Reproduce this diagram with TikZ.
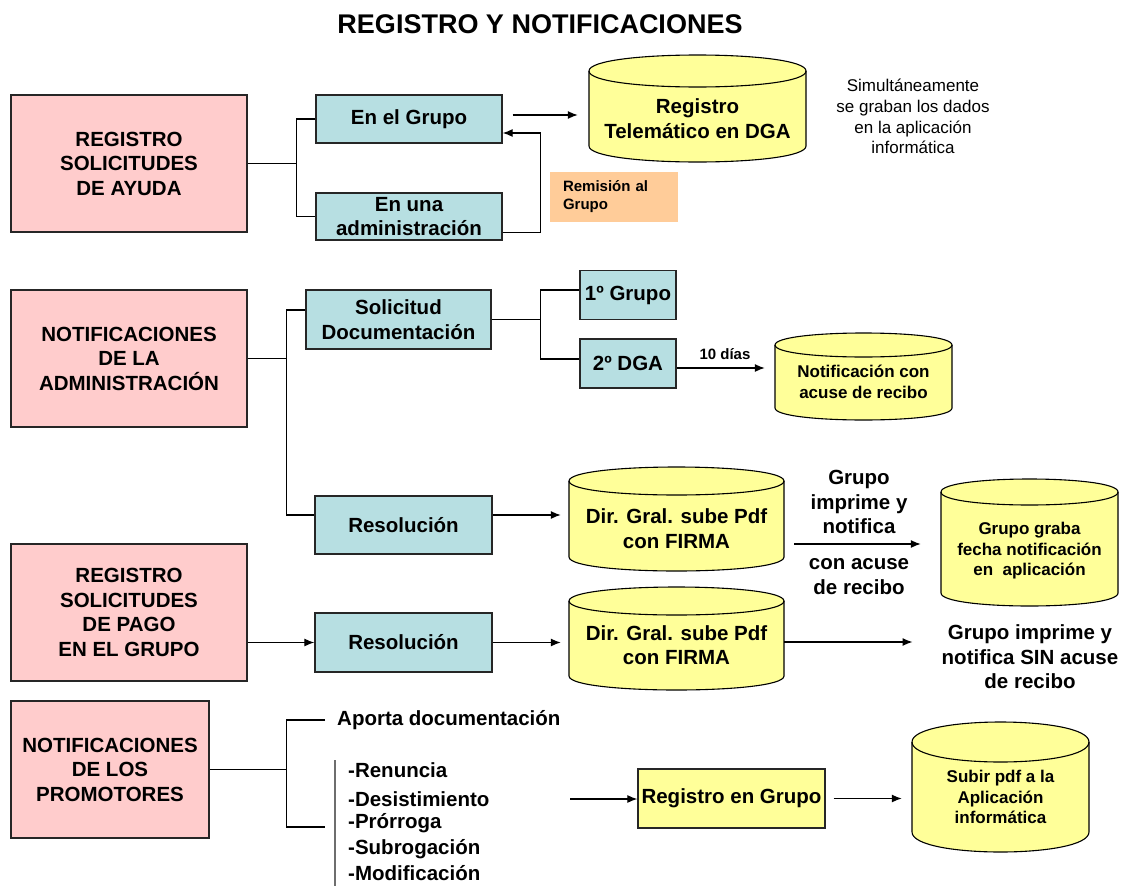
\documentclass[tikz,border=0pt]{standalone}
\usepackage{fontspec}
\setmainfont{Liberation Sans}
\usetikzlibrary{arrows.meta,calc}
\definecolor{pinkc}{RGB}{255,204,204}
\definecolor{bluec}{RGB}{183,223,226}
\definecolor{yelc}{RGB}{255,255,153}
\definecolor{orac}{RGB}{255,204,153}
\definecolor{grayl}{RGB}{110,110,110}
\newcommand\FBig{\bfseries\fontsize{20.5}{24.5}\selectfont}
\newcommand\FMid{\bfseries\fontsize{17}{20.5}\selectfont}
\newcommand\FSml{\bfseries\fontsize{15}{18}\selectfont}
\newcommand\FReg{\fontsize{17}{20.7}\selectfont}
\newcommand\FTitle{\bfseries\fontsize{27}{31}\selectfont}
% cylinder: x1, ytop, x2, ybottom, ry
\newcommand\cylshape[5]{%
  \filldraw[cylbody] (#1,{#2+#5}) -- (#1,{#4-#5})
     .. controls (#1,{#4+#5/3}) and (#3,{#4+#5/3}) .. (#3,{#4-#5})
     -- (#3,{#2+#5})
     .. controls (#3,{#2-#5/3}) and (#1,{#2-#5/3}) .. cycle;
  \draw[cylbody, fill=none] (#1,{#2+#5}) .. controls (#1,{#2+7*#5/3}) and (#3,{#2+7*#5/3}) .. (#3,{#2+#5});
}
\tikzset{
  box/.style={draw=black!85, line width=1.3pt, inner sep=0pt, align=center, font=\FBig},
  pinkbox/.style={box, fill=pinkc, minimum width=236pt, minimum height=137pt},
  bluebox/.style={box, fill=bluec},
  yelbox/.style={box, fill=yelc},
  cyltext/.style={inner sep=0pt, align=center},
  lbl/.style={inner sep=0pt, align=center, font=\FBig},
  conn/.style={line width=1.2pt, black},
  arr/.style={conn, -{Latex[length=10pt,width=8pt]}},
  cylbody/.style={fill=yelc, draw=black, line width=1.1pt},
  grayline/.style={line width=1.4pt, grayl}
}
\begin{document}
\begin{tikzpicture}[x=1pt,y=-1pt]
\useasboundingbox[fill=white] (0,0) rectangle (1121,886);

% title
\node[inner sep=0pt, font=\FTitle] (title) at (540,24) {REGISTRO Y NOTIFICACIONES};

% pink boxes
\node[pinkbox] (p1) at (129,163.5) {REGISTRO\\SOLICITUDES\\DE AYUDA};
\node[pinkbox] (p2) at (129,358.5) {NOTIFICACIONES\\DE LA\\ADMINISTRACIÓN};
\node[pinkbox] (p3) at (129,612.5) {REGISTRO\\SOLICITUDES\\DE PAGO\\EN EL GRUPO};
\node[pinkbox, minimum width=198pt] (p4) at (110,769.5) {NOTIFICACIONES\\DE LOS\\PROMOTORES};

% blue boxes
\node[bluebox, minimum width=186pt, minimum height=48pt] (b1) at (409,119) {En el Grupo};
\node[bluebox, minimum width=186pt, minimum height=47pt] (b2) at (409,216.5) {En una\\administración};
\node[bluebox, minimum width=185pt, minimum height=59pt] (sol) at (398.5,319.5) {Solicitud\\Documentación};
\node[bluebox, minimum width=96pt, minimum height=49pt] (g1) at (628,295) {1º Grupo};
\node[bluebox, minimum width=96pt, minimum height=49pt] (g2) at (628,363.5) {2º DGA};
\node[bluebox, minimum width=177pt, minimum height=58pt] (r1) at (403.5,525) {Resolución};
\node[bluebox, minimum width=177pt, minimum height=59pt] (r2) at (403.5,642.5) {Resolución};
\node[yelbox, minimum width=187pt, minimum height=59pt] (rg) at (731.5,798.5) {Registro en Grupo};

% remision
\node[fill=orac, minimum height=50pt, text width=102pt, inner xsep=13pt, inner ysep=0pt, align=left, font=\FSml] (rem) at (614,197) {Remisión al\\Grupo};

% cylinders
\cylshape{589}{55}{806}{162}{16}
\node[cyltext, font=\FBig, minimum width=217pt] (c1) at (697.5,118.5) {Registro\\Telemático en DGA};
\cylshape{775}{333}{952}{420}{12}
\node[cyltext, font=\FMid, minimum width=177pt] (c2) at (863.5,382) {Notificación con\\acuse de recibo};
\cylshape{569}{467}{784}{571}{14}
\node[cyltext, font=\FBig, minimum width=215pt] (c3) at (676.5,528.5) {Dir. Gral. sube Pdf\\con FIRMA};
\cylshape{569}{587}{784}{690}{14}
\node[cyltext, font=\FBig, minimum width=215pt] (c4) at (676.5,645) {Dir. Gral. sube Pdf\\con FIRMA};
\cylshape{941}{479}{1118}{606}{13}
\node[cyltext, font=\FMid, minimum width=177pt] (c5) at (1029.5,551) {Grupo graba\\fecha notificación\\en\ \ aplicación};
\cylshape{912}{722}{1089}{852}{20}
\node[cyltext, font=\FMid, minimum width=177pt] (c6) at (1000.5,797) {Subir pdf a la\\Aplicación\\informática};

% free texts
\node[inner sep=0pt, align=center, font=\FReg] (sim) at (913,116.5) {Simultáneamente\\se graban los dados\\en la aplicación\\informática};
\node[inner sep=0pt, font=\FSml] (ten) at (725,354) {10 días};
\node[lbl] (lab1) at (859,502) {Grupo\\imprime y\\notifica};
\node[lbl] (lab2) at (859,576.5) {con acuse\\de recibo};
\node[lbl] (sin) at (1030,657) {Grupo imprime y\\notifica SIN acuse\\de recibo};
\node[lbl, anchor=west] (apo) at (337,720) {Aporta documentación};
\node[lbl, anchor=west] (l1) at (348,770) {-Renuncia};
\node[lbl, anchor=west] (l2) at (348,799) {-Desistimiento};
\node[lbl, anchor=west] (l3) at (348,823) {-Prórroga};
\node[lbl, anchor=west] (l4) at (348,849) {-Subrogación};
\node[lbl, anchor=west] (l5) at (348,873) {-Modificación};

% section 1 connectors
\draw[conn] (p1.east) -- ++(49,0) coordinate (s1);
\draw[conn] (b1.west) -| (s1) |- (b2.west);
\draw[arr, shorten <=10pt, shorten >=11pt] ([yshift=4pt]b1.east) -- ([yshift=4pt]b1.east -| c1.west);
\draw[arr] ([yshift=-16pt]b2.east) -- ++(38,0) |- ([yshift=-14pt]b1.east);

% section 2 connectors
\draw[conn] (p2.east) -- ++(39,0) coordinate (s2);
\draw[conn] ([yshift=9.5pt]sol.west) -| (s2) |- ([yshift=10pt]r1.west);
\draw[conn] (sol.east) -- ++(48.5,0) coordinate (s3);
\draw[conn] ([yshift=5pt]g1.west) -| (s3) |- ([yshift=4.5pt]g2.west);
\draw[arr, shorten >=10pt] ([yshift=-4.5pt]g2.east) -- ([yshift=-4.5pt]g2.east -| c2.west);
\draw[arr, shorten >=8pt] ([yshift=10pt]r1.east) -- ([yshift=10pt]r1.east -| c3.west);
\draw[arr, shorten <=10pt, shorten >=20pt] ([yshift=-15.5pt]c3.east) -- ([yshift=-15.5pt]c3.east -| c5.west);

% section 3 connectors
\draw[arr] ([yshift=-30pt]p3.east) -- (r2.west);
\draw[arr, shorten >=8pt] (r2.east) -- (r2.east -| c4.west);
\draw[arr, shorten >=29pt] ([yshift=3pt]c4.east) -- ([yshift=3pt]c4.east -| sin.west);

% section 4 connectors
\draw[conn] (p4.east) -- ++(77,0) coordinate (s4);
\coordinate (b4) at (325,827);
\draw[conn] ([xshift=-12pt]apo.west) -| (s4) |- (b4);
\coordinate (gt) at (335,760);
\coordinate (gb) at (335,886);
\draw[grayline] (gt) -- (gb);
\coordinate (la) at (570,799);
\draw[arr] (la) -- (la -| rg.west);
\draw[arr, shorten <=8pt, shorten >=10pt] (rg.east) -- (rg.east -| c6.west);
\end{tikzpicture}
\end{document}
